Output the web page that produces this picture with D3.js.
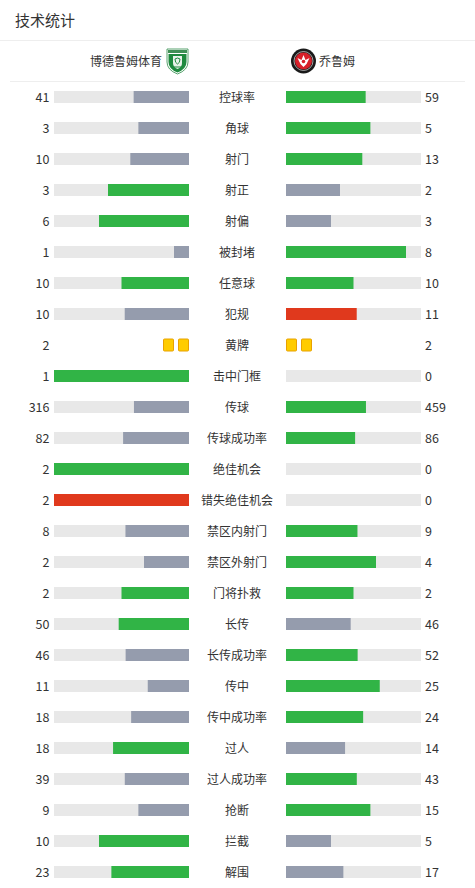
<!DOCTYPE html>
<meta charset="utf-8">
<title>技术统计</title>
<style>
  body { margin: 0; background: #fff; }
  svg text { font-family: "Noto Sans CJK SC", "Noto Sans", sans-serif; }
</style>
<body>
<script src="https://d3js.org/d3.v7.min.js"></script>
<script>

var homeTeam = "博德鲁姆体育";
var awayTeam = "乔鲁姆";

var labels = ["控球率", "角球", "射门", "射正", "射偏", "被封堵", "任意球", "犯规", "黄牌",
  "击中门框", "传球", "传球成功率", "绝佳机会", "错失绝佳机会", "禁区内射门", "禁区外射门",
  "门将扑救", "长传", "长传成功率", "传中", "传中成功率", "过人", "过人成功率", "抢断", "拦截", "解围"];
var homeValues = [41, 3, 10, 3, 6, 1, 10, 10, 2, 1, 316, 82, 2, 2, 8, 2, 2, 50, 46, 11, 18, 18, 39, 9, 10, 23];
var awayValues = [59, 5, 13, 2, 3, 8, 10, 11, 2, 0, 459, 86, 0, 0, 9, 4, 2, 46, 52, 25, 24, 14, 43, 15, 5, 17];
// stats where the bigger number is the bad one
var badStats = ["犯规", "错失绝佳机会"];
var cardStats = ["黄牌"];

var width = 475, height = 888;
var green = "#31b446", grey = "#959cad", red = "#e0391d", track = "#e8e8e8";

var svg = d3.select("body").append("svg")
  .attr("width", width)
  .attr("height", height);

// header
svg.append("text")
  .attr("x", 15).attr("y", 26)
  .style("font-size", "15px").style("fill", "#333")
  .text("技术统计");
svg.append("line")
  .attr("x1", 0).attr("x2", width).attr("y1", 40.5).attr("y2", 40.5)
  .style("stroke", "#eeeeee");

// teams
svg.append("text")
  .attr("x", 162).attr("y", 65.5)
  .attr("text-anchor", "end")
  .style("font-size", "12px").style("fill", "#333")
  .text(homeTeam);
svg.append("text")
  .attr("x", 319).attr("y", 65.5)
  .style("font-size", "12px").style("fill", "#333")
  .text(awayTeam);

// home crest (shield)
var crest = svg.append("g").attr("transform", "translate(167,49)");
crest.append("path")
  .attr("d", "M0,0 H21 V13 Q21,21 10.5,25 Q0,21 0,13 Z")
  .style("fill", "#fff").style("stroke", "#2e8b4a").style("stroke-width", 0.8);
crest.append("rect").attr("x", 1).attr("y", 1).attr("width", 19).attr("height", 3).style("fill", "#3f8f55");
crest.append("path")
  .attr("d", "M1.5,5 H19.5 V13 Q19.5,20 10.5,23.5 Q1.5,20 1.5,13 Z")
  .style("fill", "#1e8a3e");
crest.append("path")
  .attr("d", "M6,7 H15 V14 Q15,18 10.5,20 Q6,18 6,14 Z")
  .style("fill", "#e8f2ea");
crest.append("path")
  .attr("d", "M8,10 Q10.5,8 13,10 Q13,14 10.5,15 Q8,14 8,10 Z M7,18 H14")
  .style("fill", "none").style("stroke", "#1e8a3e").style("stroke-width", 1);

// away crest (round)
var badge = svg.append("g").attr("transform", "translate(303.5,61)");
badge.append("circle").attr("r", 12.5).style("fill", "#1a1a1a");
badge.append("circle").attr("r", 9.5).style("fill", "none").style("stroke", "#fff").style("stroke-width", 0.6);
badge.append("circle").attr("r", 8.5).style("fill", "#d8202a");
badge.append("path")
  .attr("d", "M-6,-3 L-2,-1 L0,-6 L2,-1 L6,-3 L3,3 L0,6 L-3,3 Z")
  .style("fill", "#fff");
badge.append("circle").attr("cy", 0.5).attr("r", 1.8).style("fill", "#d8202a");

svg.append("line")
  .attr("x1", 10).attr("x2", 465).attr("y1", 81.5).attr("y2", 81.5)
  .style("stroke", "#eeeeee");

// rows
var rowY = d3.scalePoint()
  .domain(labels)
  .range([97, 97 + 31 * (labels.length - 1)]);

var barW = 135, barH = 12;
var leftX = d3.scaleLinear().domain([0, 1]).range([189, 189 - barW]);
var rightX = d3.scaleLinear().domain([0, 1]).range([286, 286 + barW]);

var rows = labels.map(function(l, i) {
  return { label: l, home: homeValues[i], away: awayValues[i] };
});

function colorFor(d, mine, other) {
  if (badStats.indexOf(d.label) >= 0) return mine > other ? red : grey;
  return mine >= other ? green : grey;
}

var row = svg.selectAll("g.row")
  .data(rows)
  .enter().append("g")
  .attr("class", "row")
  .attr("transform", function(d) { return "translate(0," + rowY(d.label) + ")"; });

row.append("text")
  .attr("x", 237).attr("y", 4.5)
  .attr("text-anchor", "middle")
  .style("font-size", "12px").style("fill", "#333")
  .text(function(d) { return d.label; });

row.append("text")
  .attr("x", 49.5).attr("y", 4.5)
  .attr("text-anchor", "end")
  .style("font-size", "12.5px").style("fill", "#333")
  .text(function(d) { return d.home; });

row.append("text")
  .attr("x", 425).attr("y", 4.5)
  .style("font-size", "12.5px").style("fill", "#333")
  .text(function(d) { return d.away; });

var barRows = row.filter(function(d) { return cardStats.indexOf(d.label) < 0; });

barRows.append("rect")
  .attr("x", leftX(1)).attr("y", -barH / 2)
  .attr("width", barW).attr("height", barH)
  .style("fill", track);
barRows.append("rect")
  .attr("x", rightX(0)).attr("y", -barH / 2)
  .attr("width", barW).attr("height", barH)
  .style("fill", track);

function share(a, b) { return (a + b) === 0 ? 0 : a / (a + b); }

barRows.append("rect")
  .attr("x", function(d) { return leftX(share(d.home, d.away)); })
  .attr("y", -barH / 2)
  .attr("width", function(d) { return leftX(0) - leftX(share(d.home, d.away)); })
  .attr("height", barH)
  .style("fill", function(d) { return colorFor(d, d.home, d.away); });

barRows.append("rect")
  .attr("x", rightX(0))
  .attr("y", -barH / 2)
  .attr("width", function(d) { return rightX(share(d.away, d.home)) - rightX(0); })
  .attr("height", barH)
  .style("fill", function(d) { return colorFor(d, d.away, d.home); });

// yellow cards
var cardRows = row.filter(function(d) { return cardStats.indexOf(d.label) >= 0; });
cardRows.each(function(d) {
  var g = d3.select(this);
  g.selectAll("rect.hc").data(d3.range(d.home)).enter().append("rect")
    .attr("class", "hc")
    .attr("x", function(i) { return 178.5 - i * 15; }).attr("y", -6)
    .attr("width", 10).attr("height", 12).attr("rx", 1)
    .style("fill", "#ffcc00").style("stroke", "#e8a200").style("stroke-width", 1);
  g.selectAll("rect.ac").data(d3.range(d.away)).enter().append("rect")
    .attr("class", "ac")
    .attr("x", function(i) { return 286.5 + i * 15; }).attr("y", -6)
    .attr("width", 10).attr("height", 12).attr("rx", 1)
    .style("fill", "#ffcc00").style("stroke", "#e8a200").style("stroke-width", 1);
});

</script>
</body>
